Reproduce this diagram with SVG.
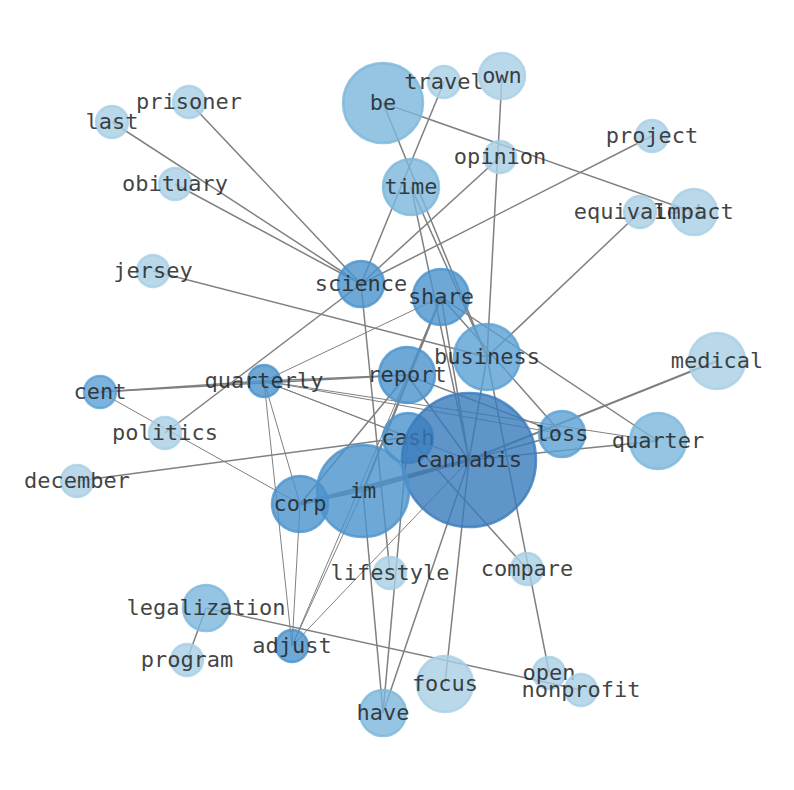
<svg xmlns="http://www.w3.org/2000/svg" width="794" height="790" viewBox="0 0 794 790">
<style>
.e{stroke:#808080;stroke-width:1.5;fill:none}
.t{stroke-width:1}
.k{stroke-width:2.2}
.w{stroke-width:3.5}
circle{fill-opacity:.8;stroke-opacity:.8;stroke-width:2.5}
.n1{fill:#a7cee5;stroke:#a7cee5}
.n2{fill:#7ab6db;stroke:#7ab6db}
.n3{fill:#4a92cc;stroke:#4a92cc}
.n3l{fill:#5aa0d4;stroke:#5aa0d4}
.n4{fill:#387abb;stroke:#387abb}
text{font-family:"DejaVu Sans Mono","Liberation Mono",monospace;font-size:22px;fill:#222;fill-opacity:.85;text-anchor:middle}
</style>
<rect width="794" height="790" fill="#fff"/>
<g id="edges">
<line class="e" x1="189" y1="102" x2="361" y2="284"/>
<line class="e" x1="112" y1="122" x2="361" y2="284"/>
<line class="e" x1="175" y1="184" x2="361" y2="284"/>
<line class="e" x1="153" y1="271" x2="487" y2="357"/>
<line class="e" x1="444" y1="82" x2="361" y2="284"/>
<line class="e" x1="500" y1="157" x2="361" y2="284"/>
<line class="e" x1="652" y1="136" x2="361" y2="284"/>
<line class="e" x1="165" y1="433" x2="361" y2="284"/>
<line class="e" x1="390" y1="573" x2="361" y2="284"/>
<line class="e" x1="383" y1="103" x2="693" y2="212"/>
<line class="e" x1="383" y1="103" x2="487" y2="357"/>
<line class="e" x1="502" y1="76" x2="487" y2="357"/>
<line class="e" x1="640" y1="212" x2="487" y2="357"/>
<line class="e" x1="411" y1="187" x2="469" y2="460"/>
<line class="e" x1="411" y1="187" x2="487" y2="357"/>
<line class="e" x1="100" y1="392" x2="407" y2="375"/>
<line class="e" x1="100" y1="392" x2="264" y2="381"/>
<line class="e" x1="264" y1="381" x2="407" y2="375"/>
<line class="e t" x1="100" y1="392" x2="300" y2="504"/>
<line class="e" x1="77" y1="481" x2="408" y2="437"/>
<line class="e t" x1="264" y1="381" x2="441" y2="297"/>
<line class="e t" x1="264" y1="381" x2="408" y2="437"/>
<line class="e t" x1="264" y1="381" x2="562" y2="434"/>
<line class="e t" x1="264" y1="381" x2="658" y2="441"/>
<line class="e t" x1="264" y1="381" x2="469" y2="460"/>
<line class="e t" x1="264" y1="381" x2="292" y2="646"/>
<line class="e t" x1="264" y1="381" x2="300" y2="504"/>
<line class="e t" x1="300" y1="504" x2="292" y2="646"/>
<line class="e t" x1="363" y1="491" x2="292" y2="646"/>
<line class="e t" x1="441" y1="297" x2="292" y2="646"/>
<line class="e t" x1="469" y1="460" x2="292" y2="646"/>
<line class="e" x1="363" y1="491" x2="383" y2="713"/>
<line class="e" x1="408" y1="437" x2="383" y2="713"/>
<line class="e" x1="469" y1="460" x2="383" y2="713"/>
<line class="e" x1="469" y1="460" x2="445" y2="684"/>
<line class="e" x1="408" y1="437" x2="527" y2="569"/>
<line class="e" x1="487" y1="357" x2="549" y2="672"/>
<line class="e" x1="206" y1="608" x2="581" y2="690"/>
<line class="e" x1="206" y1="608" x2="187" y2="660"/>
<line class="e w" x1="300" y1="504" x2="469" y2="460"/>
<line class="e k" x1="363" y1="491" x2="441" y2="297"/>
<line class="e k" x1="469" y1="460" x2="717" y2="361"/>
<line class="e" x1="469" y1="460" x2="658" y2="441"/>
<line class="e" x1="441" y1="297" x2="658" y2="441"/>
<line class="e" x1="441" y1="297" x2="562" y2="434"/>
<line class="e" x1="407" y1="375" x2="562" y2="434"/>
<line class="e" x1="407" y1="375" x2="469" y2="460"/>
<line class="e" x1="300" y1="504" x2="407" y2="375"/>
<line class="e" x1="441" y1="297" x2="469" y2="460"/>
<line class="e" x1="469" y1="460" x2="562" y2="434"/>
<line class="e k" x1="363" y1="491" x2="469" y2="460"/>
<line class="e" x1="300" y1="504" x2="363" y2="491"/>
<line class="e" x1="487" y1="357" x2="469" y2="460"/>
</g>
<g id="node-be"><circle class="n2" cx="383" cy="103" r="40"/><text x="383" y="110">be</text></g>
<g id="node-travel"><circle class="n1" cx="444" cy="82" r="16"/><text x="444" y="89">travel</text></g>
<g id="node-own"><circle class="n1" cx="502" cy="76" r="23"/><text x="502" y="83">own</text></g>
<g id="node-prisoner"><circle class="n1" cx="189" cy="102" r="16"/><text x="189" y="109">prisoner</text></g>
<g id="node-last"><circle class="n1" cx="112" cy="122" r="16"/><text x="112" y="129">last</text></g>
<g id="node-opinion"><circle class="n1" cx="500" cy="157" r="16"/><text x="500" y="164">opinion</text></g>
<g id="node-project"><circle class="n1" cx="652" cy="136" r="16"/><text x="652" y="143">project</text></g>
<g id="node-time"><circle class="n2" cx="411" cy="187" r="28"/><text x="411" y="194">time</text></g>
<g id="node-obituary"><circle class="n1" cx="175" cy="184" r="16"/><text x="175" y="191">obituary</text></g>
<g id="node-equivalent"><circle class="n1" cx="640" cy="212" r="16"/><text x="640" y="219">equivalent</text></g>
<g id="node-impact"><circle class="n1" cx="694" cy="212" r="23"/><text x="694" y="219">impact</text></g>
<g id="node-jersey"><circle class="n1" cx="153" cy="271" r="16"/><text x="153" y="278">jersey</text></g>
<g id="node-science"><circle class="n3" cx="361" cy="284" r="23"/><text x="361" y="291">science</text></g>
<g id="node-share"><circle class="n3" cx="441" cy="297" r="28"/><text x="441" y="304">share</text></g>
<g id="node-business"><circle class="n3l" cx="487" cy="357" r="33"/><text x="487" y="364">business</text></g>
<g id="node-medical"><circle class="n1" cx="717" cy="361" r="28"/><text x="717" y="368">medical</text></g>
<g id="node-report"><circle class="n3" cx="407" cy="375" r="28"/><text x="407" y="382">report</text></g>
<g id="node-quarterly"><circle class="n3" cx="264" cy="381" r="16"/><text x="264" y="388">quarterly</text></g>
<g id="node-cent"><circle class="n3l" cx="100" cy="392" r="16"/><text x="100" y="399">cent</text></g>
<g id="node-politics"><circle class="n1" cx="165" cy="433" r="16"/><text x="165" y="440">politics</text></g>
<g id="node-cash"><circle class="n3" cx="408" cy="438" r="25"/><text x="408" y="445">cash</text></g>
<g id="node-cannabis"><circle class="n4" cx="469" cy="460" r="67"/><text x="469" y="467">cannabis</text></g>
<g id="node-loss"><circle class="n3l" cx="562" cy="434" r="23"/><text x="562" y="441">loss</text></g>
<g id="node-quarter"><circle class="n2" cx="658" cy="441" r="28"/><text x="658" y="448">quarter</text></g>
<g id="node-december"><circle class="n1" cx="77" cy="481" r="16"/><text x="77" y="488">december</text></g>
<g id="node-im"><circle class="n3" cx="363" cy="491" r="46"/><text x="363" y="498">im</text></g>
<g id="node-corp"><circle class="n3" cx="300" cy="504" r="28"/><text x="300" y="511">corp</text></g>
<g id="node-lifestyle"><circle class="n1" cx="390" cy="573" r="16"/><text x="390" y="580">lifestyle</text></g>
<g id="node-compare"><circle class="n1" cx="527" cy="569" r="16"/><text x="527" y="576">compare</text></g>
<g id="node-legalization"><circle class="n2" cx="206" cy="608" r="23"/><text x="206" y="615">legalization</text></g>
<g id="node-program"><circle class="n1" cx="187" cy="660" r="16"/><text x="187" y="667">program</text></g>
<g id="node-adjust"><circle class="n3" cx="292" cy="646" r="16"/><text x="292" y="653">adjust</text></g>
<g id="node-open"><circle class="n1" cx="549" cy="673" r="16"/><text x="549" y="680">open</text></g>
<g id="node-nonprofit"><circle class="n1" cx="581" cy="690" r="16"/><text x="581" y="697">nonprofit</text></g>
<g id="node-focus"><circle class="n1" cx="445" cy="684" r="28"/><text x="445" y="691">focus</text></g>
<g id="node-have"><circle class="n2" cx="383" cy="713" r="23"/><text x="383" y="720">have</text></g>
</svg>
